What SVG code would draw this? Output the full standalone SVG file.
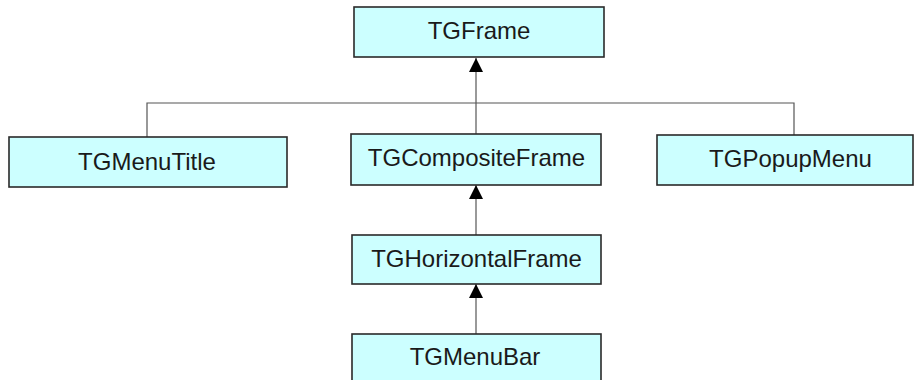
<svg xmlns="http://www.w3.org/2000/svg" width="915" height="380" viewBox="0 0 915 380">
<style>
.box{fill:#ccffff;stroke:#2a2a2a;stroke-width:1.6}
.lbl{font-family:"Liberation Sans",Arial,sans-serif;font-size:24px;fill:#1a1a1a;text-anchor:middle}
.ln{fill:none;stroke:#555;stroke-width:1.2}
</style>
<defs>
<marker id="arr" markerWidth="14" markerHeight="14" refX="14" refY="7" orient="auto" markerUnits="userSpaceOnUse">
<path d="M0,0 L14,7 L0,14 Z" fill="#000"/>
</marker>
</defs>
<rect width="915" height="380" fill="#fff"/>
<g id="connectors">
<path class="ln" d="M147,137 V103 H794 V135"/>
<path class="ln" d="M476,134 V58" marker-end="url(#arr)"/>
<path class="ln" d="M476,235 V185" marker-end="url(#arr)"/>
<path class="ln" d="M476,334 V284" marker-end="url(#arr)"/>
</g>
<g id="TGFrame"><rect class="box" x="354" y="7" width="250" height="50"/><text class="lbl" x="479" y="38.5">TGFrame</text></g>
<g id="TGMenuTitle"><rect class="box" x="9" y="137" width="278" height="50"/><text class="lbl" x="147" y="169.5">TGMenuTitle</text></g>
<g id="TGCompositeFrame"><rect class="box" x="351" y="134" width="250" height="51"/><text class="lbl" x="476.5" y="165.5">TGCompositeFrame</text></g>
<g id="TGPopupMenu"><rect class="box" x="657" y="135" width="256" height="50"/><text class="lbl" x="790.5" y="167">TGPopupMenu</text></g>
<g id="TGHorizontalFrame"><rect class="box" x="352" y="235" width="249" height="49"/><text class="lbl" x="476.5" y="267">TGHorizontalFrame</text></g>
<g id="TGMenuBar"><rect class="box" x="352" y="334" width="249" height="50"/><text class="lbl" x="475" y="365">TGMenuBar</text></g>
</svg>
